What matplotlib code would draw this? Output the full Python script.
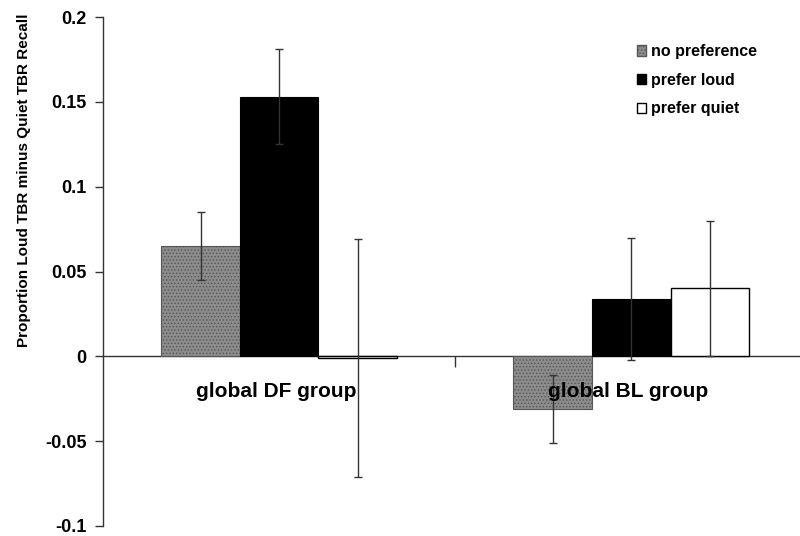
import numpy as np
import matplotlib
matplotlib.use('Agg')
import matplotlib.pyplot as plt
from matplotlib.patches import Patch

plt.rcParams['font.family'] = ['Liberation Sans', 'DejaVu Sans']
plt.rcParams['hatch.linewidth'] = 0.6

groups = ['global DF group', 'global BL group']
series = ['no preference', 'prefer loud', 'prefer quiet']
no_pref = [0.065, -0.031]
no_pref_err = [0.020, 0.020]
loud = [0.153, 0.034]
loud_err = [0.028, 0.036]
quiet = [-0.001, 0.040]
quiet_err = [0.070, 0.040]

fig = plt.figure(figsize=(8, 5.36), dpi=100)
ax = fig.add_axes([103 / 800, 10 / 536, 697 / 800, 509 / 536])

x = np.arange(len(groups))
w = 0.223
err_kw = dict(ecolor='#333333', elinewidth=1.0, capsize=3, capthick=1.0)

ax.bar(x - w, no_pref, w, yerr=no_pref_err, color='#8c8c8c', hatch='.....',
       edgecolor='#555555', linewidth=0.8, error_kw=err_kw, zorder=2)
ax.bar(x, loud, w, yerr=loud_err, color='black', edgecolor='black',
       linewidth=0.8, error_kw=err_kw, zorder=2)
ax.bar(x + w, quiet, w, yerr=quiet_err, color='white', edgecolor='black',
       linewidth=1.0, error_kw=err_kw, zorder=2)

# group names sit just under the zero line
for i, g in enumerate(groups):
    ax.text(i - 0.008, -0.021, g, ha='center', va='center', fontsize=15,
            fontweight='bold', zorder=3)

ax.set_xlim(-0.5, 1.479)
ax.set_ylim(-0.1, 0.2)
ax.set_yticks(np.arange(-0.1, 0.201, 0.05))
ax.set_yticklabels(['-0.1', '-0.05', '0', '0.05', '0.1', '0.15', '0.2'],
                   fontsize=13, fontweight='bold')
ax.set_xticks([0.5])
ax.set_xticklabels([''])
ax.tick_params(axis='y', direction='out', length=6, width=1, color='#333333',
               pad=6)
ax.tick_params(axis='x', direction='out', length=8, width=1, color='#333333')

ax.spines['top'].set_visible(False)
ax.spines['right'].set_visible(False)
ax.spines['bottom'].set_position(('data', 0))
ax.spines['bottom'].set_zorder(1)
for s in ['left', 'bottom']:
    ax.spines[s].set_color('#333333')
    ax.spines[s].set_linewidth(1.0)

ax.set_ylabel('Proportion Loud TBR minus Quiet TBR Recall', fontsize=11,
              fontweight='bold')
ax.yaxis.set_label_coords(-0.103, 0.68)

handles = [
    Patch(facecolor='#8c8c8c', edgecolor='#555555', hatch='.....', label=series[0]),
    Patch(facecolor='black', edgecolor='black', label=series[1]),
    Patch(facecolor='white', edgecolor='black', label=series[2]),
]
ax.legend(handles=handles, loc='upper left', bbox_to_anchor=(0.745, 0.975),
          frameon=False, prop={'weight': 'bold', 'size': 11.5},
          handlelength=0.6, handleheight=0.6, handletextpad=0.3,
          labelspacing=0.85)

fig.savefig('out.png', dpi=100)
